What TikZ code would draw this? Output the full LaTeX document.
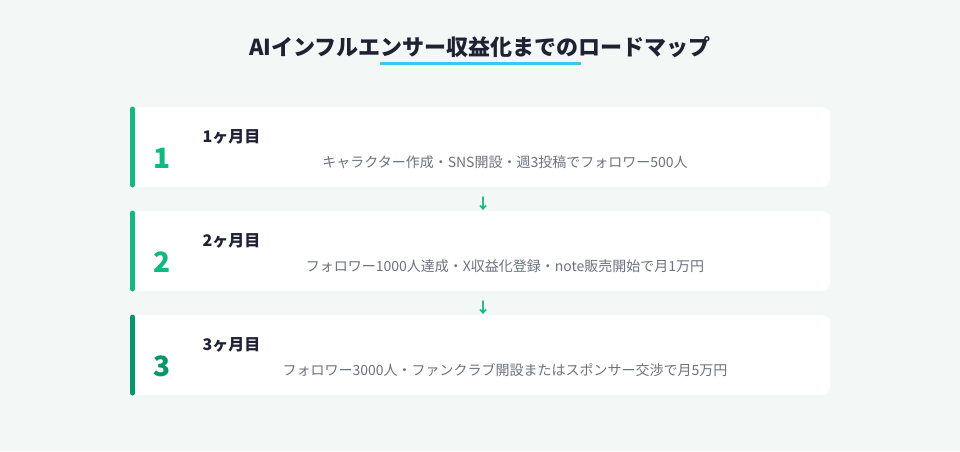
\documentclass[tikz,border=0pt]{standalone}
\usepackage{fontspec}
\setmainfont{Noto Sans CJK JP}
\definecolor{bgc}{HTML}{F3F8F6}
\definecolor{greenA}{HTML}{10B981}
\definecolor{greenB}{HTML}{059669}
\definecolor{titlec}{HTML}{1E2233}
\definecolor{descc}{HTML}{6B7280}
\definecolor{linec}{HTML}{3CC8EE}
\tikzset{
  card/.style={fill=white, draw=none, rounded corners=8pt},
  numtxt/.style={font=\fontsize{28}{30}\selectfont\bfseries, anchor=center},
  steptitle/.style={font=\fontsize{16}{18}\selectfont\bfseries, text=titlec, anchor=west},
  desctxt/.style={font=\fontsize{14}{16}\selectfont, text=descc, anchor=center},
  arrowtxt/.style={font=\fontsize{15}{16}\selectfont\bfseries, text=greenA, anchor=center},
}
\begin{document}
\begin{tikzpicture}[x=1pt,y=-1pt]
\fill[bgc] (0,0) rectangle (960,451);
\useasboundingbox (0,0) rectangle (960,451);
\node[font=\fontsize{22}{24}\selectfont\bfseries, text=titlec] (title) at (480,47) {AIインフルエンサー収益化までのロードマップ};
\coordinate (ulA) at (380,63.5);
\coordinate (ulB) at (581,63.5);
\draw[linec, line width=3pt] (ulA) -- (ulB);
% cards
\foreach \i/\y/\c/\t/\d in {1/107/greenA/1ヶ月目/キャラクター作成・SNS開設・週3投稿でフォロワー500人,
  2/211/greenA/2ヶ月目/フォロワー1000人達成・X収益化登録・note販売開始で月1万円,
  3/315/greenB/3ヶ月目/フォロワー3000人・ファンクラブ開設またはスポンサー交渉で月5万円}{
  \path[card] (130,\y) rectangle (830,\y+80);
  \coordinate (bt\i) at (132.5,\y+2);
  \coordinate (bb\i) at (132.5,\y+78);
  \draw[\c, line width=5pt, line cap=round] (bt\i) -- (bb\i);
  \node[numtxt, text=\c] (n\i) at (162,\y+51) {\i};
  \node[steptitle] (t\i) at (199,\y+30) {\t};
  \node[desctxt] (d\i) at (505,\y+55) {\d};
}
\node[arrowtxt] (a1) at (483,204) {↓};
\node[arrowtxt] (a2) at (483,308) {↓};
\end{tikzpicture}
\end{document}
